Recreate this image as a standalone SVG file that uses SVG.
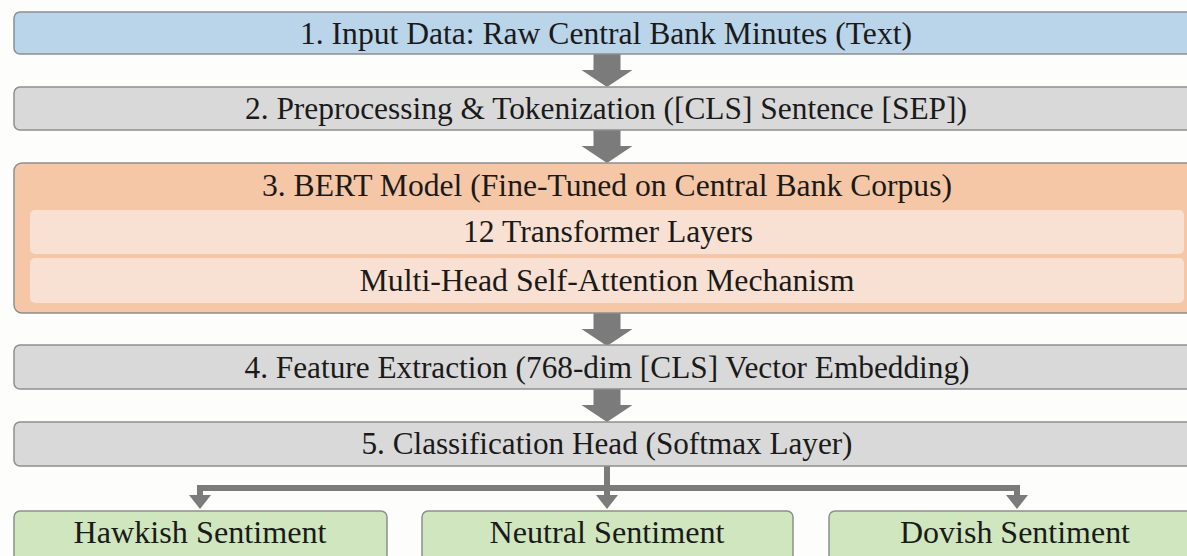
<svg xmlns="http://www.w3.org/2000/svg" width="1187" height="556" viewBox="0 0 1187 556">
<style>
.box{stroke:#8e8e8e;stroke-width:1.5}
.blue{fill:#bad4ea}
.gray{fill:#d9d9d9}
.orange{fill:#f5c7a6}
.inner{fill:#f8e1d2}
.green{fill:#d0e6be}
.t{font-family:"Liberation Serif","DejaVu Serif",serif;font-size:31px;fill:#1a1a1a;text-anchor:middle}
.conn{fill:none;stroke:#7b7b7b;stroke-width:6}
.blk{fill:#7b7b7b}
</style>
<defs>
<path id="blockArrow" d="M-13.5,0 H13.5 V16 H25.5 L0,33 L-25.5,16 H-13.5 Z"/>
<marker id="ah" markerUnits="userSpaceOnUse" markerWidth="14" markerHeight="22" viewBox="0 0 14 22" refX="0" refY="11" orient="auto">
<path d="M0,0 L14,11 L0,22 Z" fill="#7b7b7b"/>
</marker>
</defs>
<rect width="1187" height="556" fill="#fdfdfc"/>
<g id="connectors">
<use href="#blockArrow" class="blk" x="607" y="54"/>
<use href="#blockArrow" class="blk" x="607" y="130"/>
<use href="#blockArrow" class="blk" x="607" y="313"/>
<use href="#blockArrow" class="blk" x="607" y="389"/>
<path class="conn" d="M607,466 V495" marker-end="url(#ah)"/>
<path class="conn" d="M610,488 H200 V495" marker-end="url(#ah)"/>
<path class="conn" d="M604,488 H1017 V495" marker-end="url(#ah)"/>
</g>
<g id="input">
<rect class="box blue" x="14" y="12" width="1186" height="42" rx="6"/>
<text class="t" x="606" y="44" textLength="612" lengthAdjust="spacingAndGlyphs">1. Input Data: Raw Central Bank Minutes (Text)</text>
</g>
<g id="preprocessing">
<rect class="box gray" x="14" y="87" width="1186" height="43" rx="6"/>
<text class="t" x="606" y="119" textLength="722" lengthAdjust="spacingAndGlyphs">2. Preprocessing &amp; Tokenization ([CLS] Sentence [SEP])</text>
</g>
<g id="bert">
<rect class="box orange" x="14" y="163" width="1186" height="150" rx="8"/>
<text class="t" x="607" y="196" textLength="690" lengthAdjust="spacingAndGlyphs">3. BERT Model (Fine-Tuned on Central Bank Corpus)</text>
<g id="transformer-layers">
<rect class="inner" x="30" y="210" width="1154" height="44" rx="5"/>
<text class="t" x="608" y="242" textLength="290" lengthAdjust="spacingAndGlyphs">12 Transformer Layers</text>
</g>
<g id="attention">
<rect class="inner" x="30" y="258" width="1154" height="45" rx="5"/>
<text class="t" x="607" y="291" textLength="495" lengthAdjust="spacingAndGlyphs">Multi-Head Self-Attention Mechanism</text>
</g>
</g>
<g id="features">
<rect class="box gray" x="14" y="345" width="1186" height="44" rx="6"/>
<text class="t" x="607" y="378" textLength="725" lengthAdjust="spacingAndGlyphs">4. Feature Extraction (768-dim [CLS] Vector Embedding)</text>
</g>
<g id="classification">
<rect class="box gray" x="14" y="422" width="1186" height="44" rx="6"/>
<text class="t" x="607" y="454" textLength="491" lengthAdjust="spacingAndGlyphs">5. Classification Head (Softmax Layer)</text>
</g>
<g id="hawkish">
<rect class="box green" x="14" y="511" width="373" height="50" rx="6"/>
<text class="t" x="200" y="543" textLength="253" lengthAdjust="spacingAndGlyphs">Hawkish Sentiment</text>
</g>
<g id="neutral">
<rect class="box green" x="422" y="511" width="371" height="50" rx="6"/>
<text class="t" x="607" y="543" textLength="235" lengthAdjust="spacingAndGlyphs">Neutral Sentiment</text>
</g>
<g id="dovish">
<rect class="box green" x="829" y="511" width="371" height="50" rx="6"/>
<text class="t" x="1015" y="543" textLength="230" lengthAdjust="spacingAndGlyphs">Dovish Sentiment</text>
</g>
</svg>
